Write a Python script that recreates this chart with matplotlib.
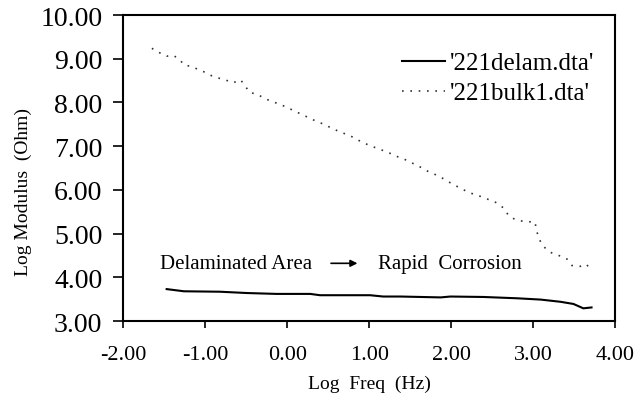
import matplotlib
matplotlib.use("Agg")
import matplotlib.pyplot as plt

plt.rcParams['font.family'] = ['Liberation Serif', 'DejaVu Serif']

# log frequency / log modulus readings for the two impedance files
bulk_freq = [-1.65, -1.57, -1.47, -1.39, -1.31, -1.26, -1.16, -1.08, -1.00, -0.92,
             -0.84, -0.76, -0.66, -0.57, -0.52, -0.46, -0.37, -0.28, -0.20, -0.12,
             -0.03, 0.05, 0.14, 0.23, 0.32, 0.41, 0.49, 0.57, 0.65, 0.74,
             0.83, 0.91, 0.99, 1.07, 1.17, 1.25, 1.33, 1.42, 1.50, 1.58,
             1.66, 1.74, 1.82, 1.91, 1.99, 2.13, 2.23, 2.33, 2.44, 2.56,
             2.64, 2.70, 2.78, 2.88, 2.96, 3.02, 3.04, 3.07, 3.12, 3.21,
             3.31, 3.41, 3.47, 3.57, 3.65, 3.70]
bulk_mod = [9.24, 9.15, 9.06, 9.08, 8.98, 8.86, 8.82, 8.75, 8.69, 8.61,
            8.56, 8.52, 8.45, 8.52, 8.40, 8.23, 8.19, 8.10, 8.03, 7.98,
            7.91, 7.84, 7.76, 7.68, 7.60, 7.53, 7.46, 7.39, 7.32, 7.26,
            7.18, 7.09, 7.03, 6.97, 6.90, 6.84, 6.77, 6.71, 6.63, 6.57,
            6.48, 6.40, 6.34, 6.25, 6.16, 6.02, 5.93, 5.87, 5.79, 5.70,
            5.58, 5.41, 5.32, 5.28, 5.27, 5.27, 5.07, 4.88, 4.71, 4.57,
            4.50, 4.42, 4.27, 4.25, 4.30, 4.15]

delam_freq = [-1.47, -1.26, -0.82, -0.49, -0.13, 0.28, 0.40, 0.81, 1.01, 1.17,
              1.38, 1.87, 1.99, 2.39, 2.80, 3.09, 3.33, 3.49, 3.61, 3.71]
delam_mod = [3.73, 3.68, 3.67, 3.64, 3.62, 3.62, 3.59, 3.59, 3.59, 3.56,
             3.56, 3.54, 3.56, 3.55, 3.52, 3.49, 3.44, 3.39, 3.29, 3.31]

x_ticks = [-2, -1, 0, 1, 2, 3, 4]
y_ticks = [3, 4, 5, 6, 7, 8, 9, 10]

fig = plt.figure(figsize=(6.35, 4.02), dpi=100)
ax = fig.add_axes([0.194, 0.199, 0.775, 0.761])

ax.plot(delam_freq, delam_mod, color='black', lw=1.5, label="'221delam.dta'")
ax.plot(bulk_freq, bulk_mod, color='#333333', lw=1.2, linestyle=(0, (1, 4)),
        label="'221bulk1.dta'")

ax.set_xlim(-2, 4)
ax.set_ylim(3, 10)
ax.set_xticks(x_ticks)
ax.set_yticks(y_ticks)
ax.set_xticklabels([f"{v:.2f}" for v in x_ticks], fontsize=16)
ax.set_yticklabels([f"{v:.2f}" for v in y_ticks], fontsize=20)
ax.tick_params(axis='both', direction='out', width=1.2, colors='black')
ax.tick_params(axis='x', length=5, pad=12)
ax.tick_params(axis='y', length=7, pad=8)
for s in ax.spines.values():
    s.set_linewidth(1.5)

ax.set_xlabel("Log  Freq  (Hz)", fontsize=14, labelpad=8)
ax.set_ylabel("Log Modulus  (Ohm)", fontsize=14)
ax.yaxis.set_label_coords(-0.185, 0.425)

ax.text(-1.55, 4.32, "Delaminated Area", fontsize=15, va='center', ha='left')
ax.annotate("", xy=(0.89, 4.32), xytext=(0.50, 4.32),
            arrowprops=dict(arrowstyle='-|>', color='black', lw=1.2,
                            mutation_scale=10))
ax.text(1.11, 4.32, "Rapid  Corrosion", fontsize=15, va='center', ha='left')

ax.legend(loc='upper left', bbox_to_anchor=(0.567, 0.88), frameon=False,
          fontsize=18, handlelength=1.7, handletextpad=0.2, borderpad=0,
          borderaxespad=0, labelspacing=0.3)

fig.savefig("out.png", dpi=100)
